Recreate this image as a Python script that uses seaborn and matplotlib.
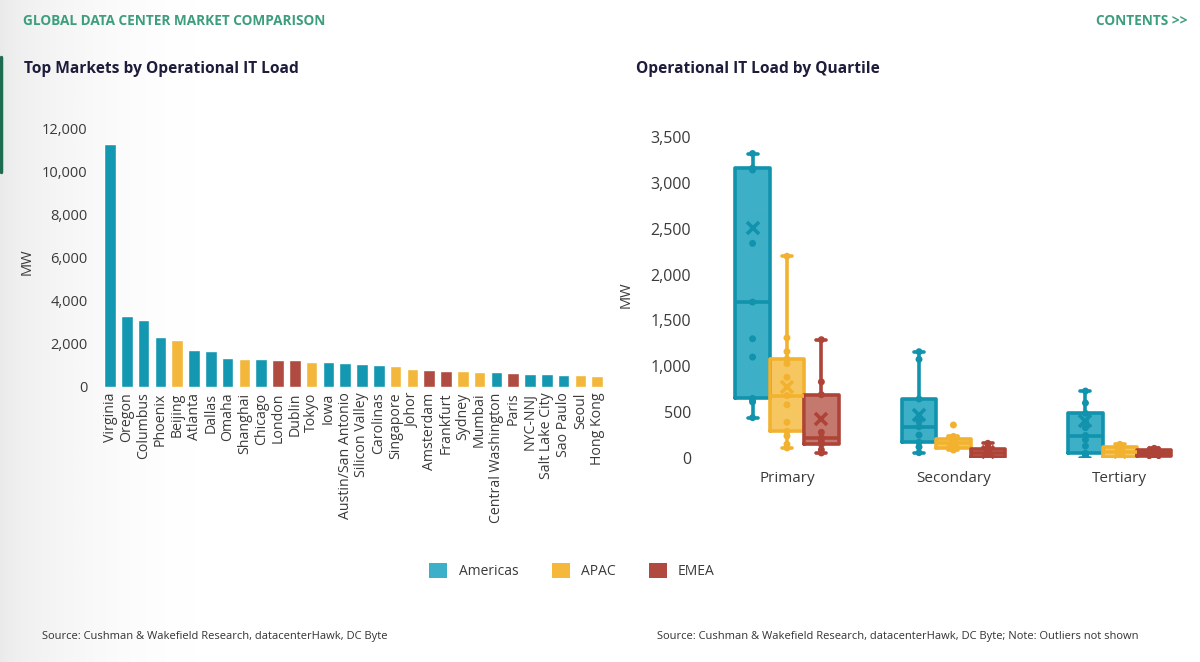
import matplotlib
matplotlib.use("Agg")
import matplotlib.pyplot as plt
import numpy as np
import pandas as pd
import seaborn as sns
from matplotlib.lines import Line2D
from matplotlib.patches import Patch

# --- left panel: top markets ---
MARKETS = [
    "Virginia", "Oregon", "Columbus", "Phoenix", "Beijing", "Atlanta", "Dallas",
    "Omaha", "Shanghai", "Chicago", "London", "Dublin", "Tokyo", "Iowa",
    "Austin/San Antonio", "Silicon Valley", "Carolinas", "Singapore", "Johor",
    "Amsterdam", "Frankfurt", "Sydney", "Mumbai", "Central Washington", "Paris",
    "NYC-NNJ", "Salt Lake City", "Sao Paulo", "Seoul", "Hong Kong",
]
MARKET_MW = [
    11250, 3300, 3120, 2310, 2190, 1720, 1680, 1350, 1300, 1300, 1260, 1230,
    1140, 1140, 1110, 1080, 1020, 990, 850, 800, 745, 740, 710, 680, 635,
    605, 585, 570, 540, 525,
]
MARKET_REGION = [
    "Americas", "Americas", "Americas", "Americas", "APAC", "Americas", "Americas",
    "Americas", "APAC", "Americas", "EMEA", "EMEA", "APAC", "Americas",
    "Americas", "Americas", "Americas", "APAC", "APAC",
    "EMEA", "EMEA", "APAC", "APAC", "Americas", "EMEA",
    "Americas", "Americas", "Americas", "APAC", "APAC",
]

# --- right panel: market loads by quartile (MW) ---
REGIONS = ["Americas", "APAC", "EMEA"]
TIERS = ["Primary", "Secondary", "Tertiary"]

PRIMARY_AMERICAS = [440, 610, 630, 650, 1100, 1300, 1700, 2340, 3140, 3160, 3320, 7000, 7240]
PRIMARY_APAC = [110, 150, 240, 290, 390, 580, 680, 880, 1030, 1080, 1160, 1310, 2200]
PRIMARY_EMEA = [55, 90, 150, 180, 220, 280, 690, 830, 1290]
SECONDARY_AMERICAS = [58, 120, 171, 250, 341, 400, 643, 1076, 1159]
SECONDARY_APAC = [87, 100, 110, 140, 160, 190, 205, 235, 360]
SECONDARY_EMEA = [5, 8, 11, 30, 58, 75, 98, 120, 160]
TERTIARY_AMERICAS = [0, 10, 30, 51, 130, 200, 245, 330, 400, 487, 600, 730, 1980]
TERTIARY_APAC = [5, 10, 15, 40, 62, 90, 116, 130, 149]
TERTIARY_EMEA = [7, 15, 22, 40, 55, 70, 87, 95, 105]

BAR_COLORS = {"Americas": "#1497B1", "APAC": "#F3B73B", "EMEA": "#AF4B40"}
BOX_FILL = {"Americas": "#3DAFC6", "APAC": "#F6C760", "EMEA": "#C5786E"}
BOX_EDGE = {"Americas": "#1193AD", "APAC": "#F2B230", "EMEA": "#AE4438"}
LEGEND_COLORS = {"Americas": "#3BB0C8", "APAC": "#F5B83A", "EMEA": "#B04A40"}

GREEN = "#3C9E7C"
NAVY = "#1D1D3B"
TEXT = "#3A3A3A"
W, H = 1200, 662


def fx(px):
    return px / W


def fy(py):
    return 1 - py / H


def shown_points(vals):
    # far outliers (beyond 3x IQR) are left out of the dot overlay
    q1, q3 = np.percentile(vals, [25, 75])
    iqr = q3 - q1
    return [v for v in vals if q1 - 3 * iqr <= v <= q3 + 3 * iqr]


sns.set_theme(style="white")
plt.rcParams["font.family"] = ["Open Sans", "DejaVu Sans"]

fig = plt.figure(figsize=(12, 6.62), dpi=100)

# soft grey fade on the left edge of the slide
bg = fig.add_axes([0, 0, 0.2, 1], zorder=-10)
grad = np.linspace(1, 0, 256) ** 2.2
bg.imshow(grad[None, :], aspect="auto", cmap="Greys", vmin=0, vmax=6.5, extent=[0, 1, 0, 1])
bg.axis("off")
fig.add_artist(Line2D([fx(1.2), fx(1.2)], [fy(57), fy(172)], color="#1E6B50", lw=2.5))

# header
fig.text(fx(23), fy(21), "GLOBAL DATA CENTER MARKET COMPARISON", color=GREEN,
         fontsize=9.8, fontweight="bold", va="center", ha="left")
fig.text(fx(1188), fy(21), "CONTENTS >>", color=GREEN,
         fontsize=9.8, fontweight="bold", va="center", ha="right")
fig.text(fx(24), fy(69), "Top Markets by Operational IT Load", color=NAVY,
         fontsize=11.2, fontweight="bold", va="center", ha="left")
fig.text(fx(636), fy(69), "Operational IT Load by Quartile", color=NAVY,
         fontsize=11.2, fontweight="bold", va="center", ha="left")

# --- bar chart ---
bar_df = pd.DataFrame({"market": MARKETS, "mw": MARKET_MW, "region": MARKET_REGION})
ax1 = fig.add_axes([fx(101.6), fy(387), fx(504), 259 / H])
sns.barplot(data=bar_df, x="market", y="mw", hue="region", hue_order=REGIONS,
            palette=BAR_COLORS, dodge=False, width=0.7, saturation=1,
            legend=False, ax=ax1)
ax1.set_ylim(0, 12000)
ax1.set_xlim(-0.5, len(MARKETS) - 0.5)
ax1.set_yticks(range(0, 12001, 2000))
ax1.yaxis.set_major_formatter(matplotlib.ticker.StrMethodFormatter("{x:,.0f}"))
ax1.tick_params(axis="x", rotation=90, labelsize=10.2, colors=TEXT, length=0, pad=4)
ax1.tick_params(axis="y", labelsize=10.5, colors=TEXT, length=0, pad=10)
ax1.set_xlabel("")
ax1.set_ylabel("MW", fontsize=10.5, color=TEXT)
ax1.yaxis.set_label_coords(-0.132, 0.483)
sns.despine(ax=ax1, left=True, bottom=True)
ax1.patch.set_alpha(0)

# --- box plot ---
groups = {
    ("Primary", "Americas"): PRIMARY_AMERICAS,
    ("Primary", "APAC"): PRIMARY_APAC,
    ("Primary", "EMEA"): PRIMARY_EMEA,
    ("Secondary", "Americas"): SECONDARY_AMERICAS,
    ("Secondary", "APAC"): SECONDARY_APAC,
    ("Secondary", "EMEA"): SECONDARY_EMEA,
    ("Tertiary", "Americas"): TERTIARY_AMERICAS,
    ("Tertiary", "APAC"): TERTIARY_APAC,
    ("Tertiary", "EMEA"): TERTIARY_EMEA,
}
box_df = pd.DataFrame(
    [(tier, region, v) for (tier, region), vals in groups.items() for v in vals],
    columns=["tier", "region", "mw"],
)
point_df = pd.DataFrame(
    [(tier, region, v) for (tier, region), vals in groups.items() for v in shown_points(vals)],
    columns=["tier", "region", "mw"],
)

box_w = 0.62
ax2 = fig.add_axes([fx(703.75), fy(458), fx(491), 321 / H])
common = dict(data=box_df, x="tier", y="mw", hue="region", order=TIERS,
              hue_order=REGIONS, width=box_w, gap=0, showfliers=False,
              legend=False, ax=ax2)
sns.boxplot(palette=BOX_FILL, saturation=1, linewidth=0, **common)
sns.boxplot(palette=BOX_EDGE, fill=False, linewidth=2.6, showmeans=True,
            meanprops=dict(marker="x", markersize=8, markeredgewidth=2.6),
            capwidths=0.06, **common)

# colour the mean markers to match their box
for line in ax2.lines:
    if line.get_marker() == "x":
        x = np.asarray(line.get_xdata(), dtype=float)[0]
        k = int(round((x - round(x)) / (box_w / 3))) + 1
        line.set_markeredgecolor(BOX_EDGE[REGIONS[k]])
        line.set_zorder(6)

n_before = len(ax2.collections)
sns.stripplot(data=point_df, x="tier", y="mw", hue="region", order=TIERS,
              hue_order=REGIONS, palette=BOX_EDGE, dodge=True, jitter=False,
              size=5, legend=False, ax=ax2, zorder=5)
# stripplot dodges over 0.8 of the slot; pull points onto the box centres
for coll in ax2.collections[n_before:]:
    off = np.asarray(coll.get_offsets(), dtype=float).copy()
    if len(off):
        base = np.round(off[:, 0])
        off[:, 0] = base + (off[:, 0] - base) * box_w / 0.8
        coll.set_offsets(off)

ax2.set_ylim(0, 3500)
ax2.set_xlim(-0.5, 2.45)
ax2.set_yticks(range(0, 3501, 500))
ax2.yaxis.set_major_formatter(matplotlib.ticker.StrMethodFormatter("{x:,.0f}"))
ax2.tick_params(axis="x", labelsize=11, colors=TEXT, length=0, pad=9)
ax2.tick_params(axis="y", labelsize=11.5, colors=TEXT, length=0, pad=9)
ax2.set_xlabel("")
ax2.set_ylabel("MW", fontsize=10.5, color=TEXT)
ax2.yaxis.set_label_coords(-0.142, 0.508)
sns.despine(ax=ax2, left=True, bottom=True)
ax2.patch.set_alpha(0)

# legend
handles = [Patch(facecolor=LEGEND_COLORS[r], edgecolor="none") for r in REGIONS]
fig.legend(handles, REGIONS, loc="center", bbox_to_anchor=(fx(572), fy(571)),
           ncol=3, frameon=False, fontsize=10, handlelength=1.3, handleheight=1.3,
           handletextpad=0.8, columnspacing=2.4, labelcolor=TEXT)

src = "Source: Cushman & Wakefield Research, datacenterHawk, DC Byte"
fig.text(fx(42), fy(637), src, fontsize=8, color="#333333", va="center")
fig.text(fx(657), fy(637), src + "; Note: Outliers not shown", fontsize=8,
         color="#333333", va="center")

fig.savefig("out.png", dpi=100)
